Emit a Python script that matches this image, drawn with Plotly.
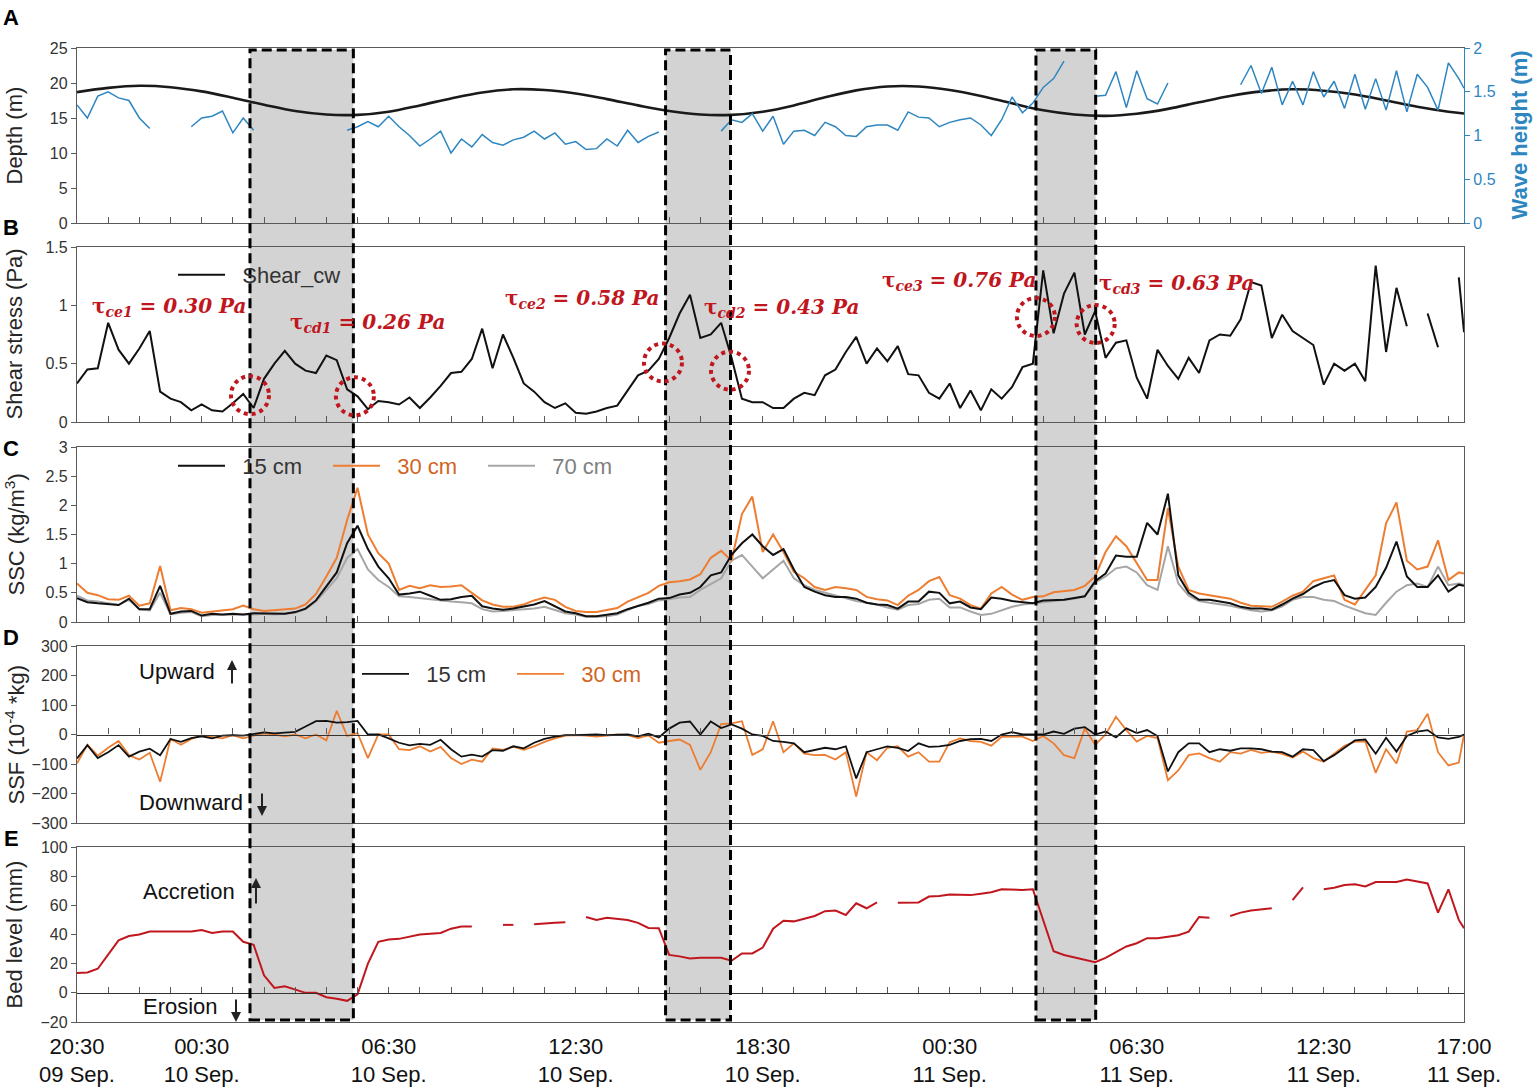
import pandas as pd
import plotly.graph_objects as go

# ---------------- data ----------------
t_start = "2019-09-09 20:30"
t_end = "2019-09-11 17:00"
times = list(pd.date_range(t_start, "2019-09-11 16:50", freq="20min")) + [pd.Timestamp(t_end)]
depth_times = list(pd.date_range(t_start, periods=45, freq="h")) + [pd.Timestamp(t_end)]

depth_m = [18.7, 19.3, 19.6, 19.4, 18.8, 17.9, 16.9, 16.0, 15.5, 15.45,
           15.9, 16.8, 17.8, 18.65, 19.1, 19.0, 18.5, 17.7, 16.8, 16.0,
           15.5, 15.45, 15.9, 16.8, 17.95, 18.95, 19.5, 19.5, 19.0, 18.15,
           17.1, 16.1, 15.5, 15.3, 15.6, 16.3, 17.25, 18.15, 18.8, 19.1,
           18.9, 18.35, 17.5, 16.6, 15.9, 15.65]

wave_m = [1.35, 1.20, 1.45, 1.50, 1.43, 1.40, 1.20, 1.08, None, None,
          None, 1.10, 1.20, 1.22, 1.28, 1.03, 1.20, 1.06, None, None,
          None, None, None, None, None, None, 1.06, 1.10, 1.16, 1.10,
          1.22, 1.10, 1.00, 0.88, 0.96, 1.05, 0.80, 0.96, 0.87, 1.01,
          0.92, 0.89, 0.95, 0.98, 1.05, 0.96, 1.03, 0.90, 0.93, 0.84,
          0.85, 0.96, 0.88, 1.06, 0.92, 0.99, 1.04, None, None, None,
          None, None, 1.05, 1.18, 1.15, 1.25, 1.05, 1.22, 0.90, 1.05,
          1.06, 1.00, 1.15, 1.10, 1.00, 0.99, 1.10, 1.12, 1.12, 1.06,
          1.27, 1.21, 1.20, 1.10, 1.15, 1.18, 1.20, 1.12, 1.00, 1.18,
          1.44, 1.26, 1.37, 1.55, 1.65, 1.85, None, None, 1.45, 1.46,
          1.73, 1.32, 1.74, 1.42, 1.36, 1.60, None, None, None, None,
          None, None, 1.58, 1.80, 1.48, 1.78, 1.35, 1.62, 1.35, 1.73,
          1.44, 1.62, 1.31, 1.70, 1.30, 1.65, 1.29, 1.74, 1.27, 1.70,
          1.55, 1.29, 1.83, 1.65, 1.54]

shear_pa = [0.33, 0.45, 0.46, 0.85, 0.62, 0.50, 0.63, 0.78, 0.26, 0.20,
            0.17, 0.10, 0.15, 0.10, 0.09, 0.16, 0.24, 0.12, 0.37, 0.50,
            0.61, 0.50, 0.44, 0.42, 0.57, 0.53, 0.28, 0.22, 0.11, 0.18,
            0.17, 0.15, 0.21, 0.12, 0.21, 0.31, 0.42, 0.43, 0.54, 0.80,
            0.46, 0.75, 0.55, 0.33, 0.26, 0.17, 0.12, 0.16, 0.08, 0.07,
            0.09, 0.12, 0.14, 0.27, 0.40, 0.44, 0.54, 0.72, 0.93, 1.09,
            0.72, 0.75, 0.85, 0.55, 0.20, 0.17, 0.17, 0.12, 0.12, 0.20,
            0.25, 0.23, 0.40, 0.45, 0.60, 0.73, 0.50, 0.63, 0.52, 0.65,
            0.41, 0.40, 0.25, 0.20, 0.33, 0.12, 0.27, 0.10, 0.28, 0.20,
            0.30, 0.47, 0.50, 1.30, 0.76, 1.10, 1.28, 0.75, 0.95, 0.55,
            0.68, 0.70, 0.38, 0.20, 0.62, 0.48, 0.37, 0.55, 0.42, 0.70,
            0.75, 0.74, 0.88, 1.20, 1.17, 0.72, 0.92, 0.78, 0.72, 0.66,
            0.32, 0.50, 0.44, 0.50, 0.35, 1.34, 0.60, 1.15, 0.82, None,
            0.93, 0.64, None, 1.24, 0.77]

ssc_15 = [0.41, 0.34, 0.32, 0.30, 0.29, 0.40, 0.22, 0.22, 0.62, 0.14,
          0.18, 0.19, 0.11, 0.14, 0.13, 0.14, 0.13, 0.15, 0.15, 0.14,
          0.14, 0.17, 0.23, 0.37, 0.60, 0.85, 1.35, 1.65, 1.25, 0.95,
          0.75, 0.47, 0.49, 0.52, 0.45, 0.38, 0.39, 0.43, 0.45, 0.27,
          0.23, 0.21, 0.23, 0.26, 0.30, 0.36, 0.27, 0.18, 0.15, 0.10,
          0.10, 0.12, 0.15, 0.22, 0.27, 0.33, 0.40, 0.41, 0.47, 0.50,
          0.60, 0.80, 0.85, 1.15, 1.35, 1.50, 1.30, 1.15, 1.25, 0.90,
          0.60, 0.52, 0.46, 0.43, 0.43, 0.40, 0.33, 0.30, 0.29, 0.23,
          0.35, 0.35, 0.52, 0.50, 0.32, 0.35, 0.25, 0.22, 0.42, 0.40,
          0.36, 0.34, 0.32, 0.37, 0.38, 0.38, 0.41, 0.44, 0.70, 0.83,
          1.14, 1.12, 1.12, 1.70, 1.50, 2.20, 0.80, 0.50, 0.38, 0.38,
          0.35, 0.32, 0.26, 0.23, 0.23, 0.21, 0.30, 0.40, 0.48, 0.60,
          0.68, 0.72, 0.46, 0.40, 0.42, 0.60, 0.93, 1.38, 0.78, 0.60,
          0.60, 0.80, 0.52, 0.64, 0.62]

ssc_30 = [0.66, 0.50, 0.46, 0.39, 0.38, 0.45, 0.28, 0.32, 0.96, 0.20,
          0.24, 0.22, 0.16, 0.18, 0.19, 0.22, 0.28, 0.22, 0.19, 0.20,
          0.21, 0.23, 0.30, 0.48, 0.78, 1.10, 1.75, 2.30, 1.50, 1.18,
          1.00, 0.55, 0.62, 0.58, 0.63, 0.60, 0.61, 0.63, 0.50, 0.37,
          0.30, 0.26, 0.26, 0.30, 0.37, 0.42, 0.38, 0.26, 0.19, 0.17,
          0.17, 0.20, 0.24, 0.35, 0.43, 0.50, 0.62, 0.68, 0.70, 0.73,
          0.82, 1.10, 1.22, 1.05, 1.85, 2.15, 1.20, 1.50, 1.20, 0.86,
          0.75, 0.60, 0.55, 0.60, 0.58, 0.55, 0.43, 0.39, 0.37, 0.29,
          0.45, 0.55, 0.70, 0.77, 0.46, 0.40, 0.29, 0.23, 0.49, 0.60,
          0.47, 0.38, 0.43, 0.44, 0.51, 0.53, 0.55, 0.62, 0.78, 1.20,
          1.47, 1.30, 1.00, 0.72, 0.72, 1.95, 0.95, 0.55, 0.49, 0.46,
          0.42, 0.40, 0.33, 0.28, 0.27, 0.26, 0.35, 0.45, 0.52, 0.70,
          0.75, 0.80, 0.38, 0.30, 0.55, 0.80, 1.69, 2.05, 1.05, 0.90,
          0.95, 1.40, 0.72, 0.85, 0.83]

ssc_70 = [0.45, 0.37, 0.35, 0.32, 0.29, 0.38, 0.22, 0.20, 0.50, 0.13,
          0.16, 0.17, 0.10, 0.12, 0.12, 0.13, 0.12, 0.13, 0.14, 0.13,
          0.14, 0.16, 0.22, 0.35, 0.55, 0.75, 1.10, 1.25, 0.90, 0.72,
          0.60, 0.44, 0.43, 0.41, 0.39, 0.36, 0.35, 0.34, 0.32, 0.22,
          0.18, 0.19, 0.20, 0.22, 0.23, 0.26, 0.20, 0.15, 0.13, 0.09,
          0.09, 0.10, 0.13, 0.20, 0.28, 0.31, 0.37, 0.39, 0.42, 0.43,
          0.55, 0.65, 0.75, 1.05, 1.15, 0.95, 0.75, 0.90, 1.05, 0.75,
          0.63, 0.55, 0.50, 0.45, 0.41, 0.36, 0.33, 0.30, 0.25, 0.21,
          0.29, 0.31, 0.38, 0.40, 0.25, 0.25, 0.18, 0.12, 0.14, 0.20,
          0.26, 0.30, 0.32, 0.33, 0.35, 0.38, 0.40, 0.44, 0.68, 0.78,
          0.92, 0.95, 0.85, 0.63, 0.55, 1.30, 0.66, 0.45, 0.36, 0.33,
          0.31, 0.28, 0.24, 0.20, 0.18, 0.20, 0.27, 0.38, 0.43, 0.43,
          0.38, 0.36, 0.28, 0.21, 0.15, 0.12, 0.33, 0.52, 0.63, 0.66,
          0.60, 0.95, 0.63, 0.66, 0.64]

ssf_15 = [-81, -36, -80, -60, -36, -75, -58, -48, -70, -15,
          -25, -12, -6, -13, -4, -2, -4, 2, 7, 4,
          6, 9, 27, 45, 46, 40, 42, 46, 0, 0,
          -13, -28, -37, -32, -35, -18, -50, -75, -68, -75,
          -53, -55, -40, -47, -28, -15, -7, -2, -2, 0,
          0, -2, 0, 0, -6, 3, -10, 20, 40, 44,
          0, 44, 22, 34, 20, 0, -5, -22, -25, -30,
          -60, -53, -45, -50, -40, -149, -60, -50, -40, -45,
          -56, -30, -42, -40, -35, -22, -16, -15, -22, 0,
          8, 0, 0, 0, 10, 2, 20, 25, 0, 10,
          -10, 21, 5, 15, -5, -125, -60, -30, -30, -60,
          -50, -55, -47, -47, -50, -58, -60, -75, -50, -53,
          -90, -70, -45, -20, -17, -65, -11, -58, -5, 10,
          15, -10, -15, -8, 0]

ssf_30 = [-98, -35, -72, -45, -22, -70, -85, -62, -160, -15,
          -35, -15, -3, -8, -13, -2, -13, -4, 4, 0,
          -6, 0, -13, 0, -20, 80, -5, 5, -80, 0,
          0, -50, -53, -40, -58, -42, -80, -100, -85, -92,
          -47, -52, -41, -52, -40, -25, -13, -4, -2, -4,
          -7, -4, 0, -2, -12, -3, -28, -22, -17, -35,
          -120, -60, 35, 38, 45, -69, -50, 45, -60, -30,
          -65, -70, -69, -85, -60, -210, -60, -87, -45, -40,
          -75, -60, -92, -92, -26, -13, -22, -25, -38, -8,
          -7, -7, -22, -5, -30, -70, -80, 20, -35, 0,
          60, 15, -24, -5, -12, -155, -122, -70, -64, -80,
          -92, -60, -65, -52, -62, -58, -66, -78, -58, -80,
          -92, -65, -38, -24, -24, -130, -50, -98, 10, 15,
          70, -60, -105, -95, 0]

bed_mm = [13.6, 14, 16.5, 26, 36, 39, 40, 42, 42, 42,
          42.5, 42, 43, 41, 42, 42, 35, 33, 12, 3.4,
          4.5, 2, 0, 0, -3, -4, -5.5, -1, 20, 35,
          36.5, 37, 38.6, 40, 40.5, 41, 44, 45.5, 45.5, None,
          None, 46.6, 46.6, None, 47, 47.7, 48, 48.4, None, 52,
          50, 51.5, 50.5, 50, 48, 44.5, 44.3, 26, 25, 23.5,
          24, 24, 24, 22, 27, 27, 31, 44, 49.5, 49,
          51, 52.7, 56, 56.4, 53.4, 61.4, 58, 62, None, 61.8,
          61.8, 62, 66, 66.4, 67.5, 67, 67, 68, 69, 71,
          70.5, 70.5, 71, 50, 28.5, 26, 24.5, 22.5, 21, 24,
          28, 31.8, 34, 37.5, 37.5, 38.6, 39.5, 42, 52, 51.5,
          None, 52.7, 55, 56.5, 57.5, 58, None, 63.6, 72.3, None,
          71, 72, 73.9, 74.5, 73, 76, 76, 76, 77.7, 76.5,
          75, 55, 71, 50, 44.3]

event_start = ["2019-09-10 02:03", "2019-09-10 15:23", "2019-09-11 03:16"]
event_end = ["2019-09-10 05:22", "2019-09-10 17:28", "2019-09-11 05:11"]

circle_times = ["2019-09-10 02:03", "2019-09-10 05:25", "2019-09-10 15:18",
                "2019-09-10 17:27", "2019-09-11 03:16", "2019-09-11 05:11"]
circle_stress = [0.23, 0.22, 0.51, 0.44, 0.90, 0.84]

tau_names = ["ce1", "cd1", "ce2", "cd2", "ce3", "cd3"]
tau_values = ["0.30", "0.26", "0.58", "0.43", "0.76", "0.63"]

tick_times = ["2019-09-09 20:30", "2019-09-10 00:30", "2019-09-10 06:30",
              "2019-09-10 12:30", "2019-09-10 18:30", "2019-09-11 00:30",
              "2019-09-11 06:30", "2019-09-11 12:30", "2019-09-11 17:00"]
tick_labels = ["20:30<br>09 Sep.", "00:30<br>10 Sep.", "06:30<br>10 Sep.",
               "12:30<br>10 Sep.", "18:30<br>10 Sep.", "00:30<br>11 Sep.",
               "06:30<br>11 Sep.", "12:30<br>11 Sep.", "17:00<br>11 Sep."]

# ---------------- layout helpers ----------------
W, H = 1536, 1090
ML, MR, MT, MB = 77, 72, 48, 68
PW, PH = W - ML - MR, H - MT - MB


def px(x):
    return (x - ML) / PW


def py(y):
    return (H - MB - y) / PH


FONT = "Liberation Sans, Arial, sans-serif"
SERIF = "DejaVu Serif, Liberation Serif, serif"
AX = "#595959"
BLUE = "#2E86C1"
ORANGE = "#ED7D31"
GREY = "#A6A6A6"
RED = "#C0161E"
NB = "\u00a0\u00a0"
xr = [t_start, t_end]

fig = go.Figure()

# A
fig.add_trace(go.Scatter(x=depth_times, y=depth_m, mode="lines", line=dict(color="#1a1a1a", width=2.6, shape="spline"),
                         xaxis="x", yaxis="y", showlegend=False, name="Depth"))
fig.add_trace(go.Scatter(x=times, y=wave_m, mode="lines", line=dict(color=BLUE, width=1.5),
                         xaxis="x", yaxis="y2", showlegend=False, name="Wave height"))
# B
fig.add_trace(go.Scatter(x=times, y=shear_pa, mode="lines", line=dict(color="#111111", width=2),
                         xaxis="x2", yaxis="y3", name=NB + "Shear_cw", legend="legend"))
# C
fig.add_trace(go.Scatter(x=times, y=ssc_70, mode="lines", line=dict(color=GREY, width=2),
                         xaxis="x3", yaxis="y4", legend="legend2", legendrank=3,
                         name=NB + "<span style='color:#808080'>70 cm</span>"))
fig.add_trace(go.Scatter(x=times, y=ssc_30, mode="lines", line=dict(color=ORANGE, width=2),
                         xaxis="x3", yaxis="y4", legend="legend2", legendrank=2,
                         name=NB + "<span style='color:#D0661E'>30 cm</span>"))
fig.add_trace(go.Scatter(x=times, y=ssc_15, mode="lines", line=dict(color="#111111", width=2),
                         xaxis="x3", yaxis="y4", legend="legend2", legendrank=1, name=NB + "15 cm"))
# D
fig.add_trace(go.Scatter(x=times, y=ssf_30, mode="lines", line=dict(color=ORANGE, width=1.8),
                         xaxis="x4", yaxis="y5", legend="legend3", legendrank=2,
                         name=NB + "<span style='color:#D0661E'>30 cm</span>"))
fig.add_trace(go.Scatter(x=times, y=ssf_15, mode="lines", line=dict(color="#111111", width=1.8),
                         xaxis="x4", yaxis="y5", legend="legend3", legendrank=1, name=NB + "15 cm"))
# E
fig.add_trace(go.Scatter(x=times, y=bed_mm, mode="lines", line=dict(color=RED, width=2),
                         xaxis="x5", yaxis="y6", showlegend=False, name="Bed level"))
# carriers for zero-line axes
fig.add_trace(go.Scatter(x=[times[0]], y=[None], xaxis="x6", yaxis="y5", showlegend=False, hoverinfo="skip"))
fig.add_trace(go.Scatter(x=[times[0]], y=[None], xaxis="x7", yaxis="y6", showlegend=False, hoverinfo="skip"))

doms = {
    "A": [py(223), py(48)],
    "B": [py(422), py(247)],
    "C": [py(622), py(447)],
    "D": [py(823), py(646)],
    "E": [py(1022), py(847)],
}


def xax(anchor, ticks=True):
    return dict(type="date", range=xr, anchor=anchor, showgrid=False, zeroline=False, automargin=False,
                showline=True, linecolor=AX, linewidth=1.3, mirror=True,
                ticks="inside" if ticks else "", ticklen=6, tickcolor=AX, tickwidth=1.2,
                dtick=3600000, tick0=t_start, showticklabels=False)


def yax(dom, rng, dtick, anchor, mirror=True):
    return dict(domain=dom, range=rng, dtick=dtick, anchor=anchor, showgrid=False, zeroline=False,
                automargin=False, showline=True, linecolor=AX, linewidth=1.3, mirror=mirror, ticks="outside",
                ticklen=5, tickcolor=AX, tickfont=dict(size=16, color="#333333", family=FONT))


leg_common = dict(orientation="h", xanchor="left", yanchor="middle", bgcolor="rgba(0,0,0,0)",
                  font=dict(size=22, color="#333333", family=FONT), itemwidth=47)

layout = dict(
    width=W, height=H, margin=dict(l=ML, r=MR, t=MT, b=MB, autoexpand=False),
    paper_bgcolor="white", plot_bgcolor="rgba(0,0,0,0)",
    font=dict(family=FONT, size=16, color="#222222"),
    xaxis=xax("y"), xaxis2=xax("y3"), xaxis3=xax("y4"),
    xaxis4=xax("y5", ticks=False),
    xaxis5=dict(xax("y6", ticks=False), tickmode="array", tickvals=tick_times, ticktext=tick_labels,
                showticklabels=True, ticklabelstandoff=4,
                tickfont=dict(size=22, color="#111111", family=FONT)),
    xaxis6=dict(xax("free"), overlaying="x4", position=py(734.5), mirror=False, linecolor="#333333"),
    xaxis7=dict(xax("free"), overlaying="x5", position=py(992.8), mirror=False, linecolor="#333333"),
    yaxis=yax(doms["A"], [0, 25], 5, "x", mirror=False),
    yaxis2=dict(overlaying="y", side="right", anchor="x", range=[0, 2], dtick=0.5, showgrid=False,
                zeroline=False, automargin=False, showline=True, linecolor=BLUE, linewidth=1.3,
                ticks="outside", ticklen=5, tickcolor=BLUE, tickfont=dict(size=16, color=BLUE, family=FONT)),
    yaxis3=yax(doms["B"], [0, 1.5], 0.5, "x2"),
    yaxis4=yax(doms["C"], [0, 3], 0.5, "x3"),
    yaxis5=yax(doms["D"], [-300, 300], 100, "x4"),
    yaxis6=yax(doms["E"], [-20, 100], 20, "x5"),
    legend=dict(leg_common, x=px(173), y=py(275)),
    legend2=dict(leg_common, x=px(173), y=py(466), entrywidth=93, entrywidthmode="pixels",
                 traceorder="normal"),
    legend3=dict(leg_common, x=px(357), y=py(674), entrywidth=93, entrywidthmode="pixels",
                 traceorder="normal"),
)
fig.update_layout(**layout)

shapes = []
for s, e in zip(event_start, event_end):
    shapes.append(dict(type="rect", xref="x", yref="paper", x0=s, x1=e, y0=py(1020), y1=py(50),
                       fillcolor="#D3D3D3", line=dict(width=0), layer="below"))
for s, e in zip(event_start, event_end):
    shapes.append(dict(type="rect", xref="x", yref="paper", x0=s, x1=e, y0=py(1020), y1=py(50),
                       fillcolor="rgba(0,0,0,0)", line=dict(color="black", width=3, dash="10px,5px"),
                       layer="above"))
for tc, vc in zip(circle_times, circle_stress):
    shapes.append(dict(type="circle", xref="x2", yref="y3", xsizemode="pixel", ysizemode="pixel",
                       xanchor=tc, yanchor=vc, x0=-19, x1=19, y0=-19, y1=19,
                       line=dict(color=RED, width=4, dash="dot"), layer="above"))
fig.update_layout(shapes=shapes)

ann = []
for letter, yy in zip("ABCDE", [18, 228, 449, 638, 838]):
    ann.append(dict(text="<b>%s</b>" % letter, x=px(11), y=py(yy), xref="paper", yref="paper",
                    showarrow=False, xanchor="center", yanchor="middle",
                    font=dict(size=22, color="black", family=FONT)))
titles = ["Depth (m)", "Shear stress (Pa)", "SSC (kg/m<sup>3</sup>)", "SSF (10<sup>-4</sup> *kg)", "Bed level (mm)"]
for ttl, key in zip(titles, "ABCDE"):
    d0, d1 = doms[key]
    ann.append(dict(text=ttl, x=px(14), y=(d0 + d1) / 2, xref="paper", yref="paper", textangle=-90,
                    showarrow=False, xanchor="center", yanchor="middle",
                    font=dict(size=22, color="#262626", family=FONT)))
ann.append(dict(text="<b>Wave height (m)</b>", x=px(1519), y=sum(doms["A"]) / 2, xref="paper", yref="paper",
                textangle=-90, showarrow=False, xanchor="center", yanchor="middle",
                font=dict(size=22, color=BLUE, family=FONT)))
tau_pos = [(90, 307), (288, 323), (503, 299), (702, 308), (880, 281), (1097, 284)]
for nm, val, (xx, yy) in zip(tau_names, tau_values, tau_pos):
    ann.append(dict(text="<b>τ<sub><i>%s</i></sub> = <i>%s Pa</i></b>" % (nm, val), x=px(xx), y=py(yy),
                    xref="paper", yref="paper", showarrow=False, xanchor="left", yanchor="middle",
                    font=dict(size=20, color=RED, family=SERIF)))
for txt, xx, yy in [("Upward", 137, 671), ("Downward", 137, 802), ("Accretion", 141, 891), ("Erosion", 141, 1006)]:
    ann.append(dict(text=txt, x=px(xx), y=py(yy), xref="paper", yref="paper", showarrow=False,
                    xanchor="left", yanchor="middle", font=dict(size=22, color="#111111", family=FONT)))
for xx, ytip, ay in [(232, 660, 25), (262, 816, -24), (256, 878, 27), (236, 1022, -24)]:
    ann.append(dict(text="", x=px(xx), y=py(ytip), xref="paper", yref="paper", showarrow=True,
                    ax=0, ay=ay, arrowhead=2, arrowsize=1, arrowwidth=2, arrowcolor="#222222"))
fig.update_layout(annotations=ann)

fig.write_html("out.html", config={"displayModeBar": False},
               post_script="document.body.style.margin='0px';document.body.style.overflow='hidden';")
